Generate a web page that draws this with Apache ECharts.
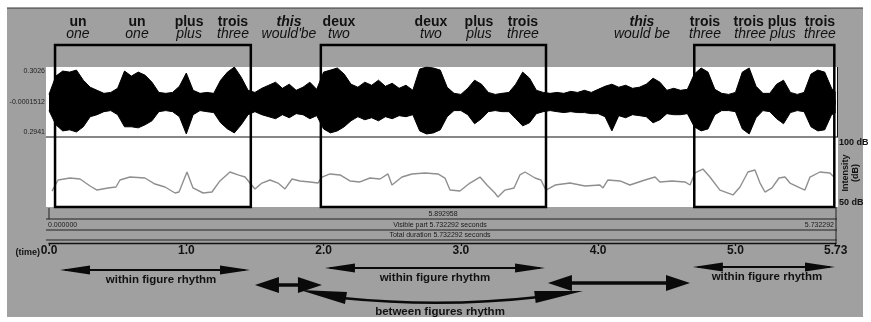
<!DOCTYPE html>
<html><head><meta charset="utf-8">
<script src="https://cdn.jsdelivr.net/npm/echarts@6/dist/echarts.min.js"></script>
<style>html,body{margin:0;padding:0;background:#fff}#c{width:871px;height:322px}</style>
</head><body><div id="c"></div>
<script>
// ---- data ----
const totalDuration = 5.732292;
const waveTimes = [0.00,0.05,0.10,0.15,0.20,0.25,0.30,0.35,0.40,0.45,0.50,0.55,0.60,0.65,0.70,0.75,0.80,0.85,0.90,0.95,
  1.00,1.05,1.10,1.15,1.20,1.25,1.30,1.35,1.40,1.45,1.50,1.55,1.60,1.65,1.70,1.75,1.80,1.85,1.90,1.95,
  2.00,2.05,2.10,2.15,2.20,2.25,2.30,2.35,2.40,2.45,2.50,2.55,2.60,2.65,2.70,2.75,2.80,2.85,2.90,2.95,
  3.00,3.05,3.10,3.15,3.20,3.25,3.30,3.35,3.40,3.45,3.50,3.55,3.60,3.65,3.70,3.75,3.80,3.85,3.90,3.95,
  4.00,4.05,4.10,4.15,4.20,4.25,4.30,4.35,4.40,4.45,4.50,4.55,4.60,4.65,4.70,4.75,4.80,4.85,4.90,4.95,
  5.00,5.05,5.10,5.15,5.20,5.25,5.30,5.35,5.40,5.45,5.50,5.55,5.60,5.65,5.70,5.73];
const waveHi = [0.069,0.225,0.268,0.259,0.276,0.190,0.130,0.104,0.078,0.086,0.121,0.268,0.225,0.259,0.233,0.173,0.086,0.078,0.086,0.138,
  0.251,0.104,0.078,0.086,0.078,0.190,0.259,0.302,0.216,0.104,0.086,0.121,0.147,0.173,0.121,0.156,0.104,0.130,0.173,0.112,
  0.259,0.276,0.294,0.242,0.156,0.130,0.173,0.147,0.190,0.138,0.164,0.121,0.147,0.104,0.285,0.302,0.294,0.276,0.130,0.078,
  0.069,0.121,0.190,0.156,0.086,0.069,0.078,0.086,0.156,0.259,0.207,0.104,0.086,0.078,0.086,0.078,0.095,0.086,0.104,0.086,
  0.112,0.138,0.156,0.130,0.147,0.121,0.130,0.156,0.207,0.173,0.104,0.121,0.104,0.112,0.242,0.294,0.259,0.112,0.078,0.069,
  0.086,0.259,0.294,0.138,0.078,0.078,0.156,0.190,0.086,0.069,0.086,0.242,0.276,0.259,0.121,0.086];
const waveLo = [-0.069,-0.190,-0.242,-0.233,-0.251,-0.207,-0.121,-0.104,-0.078,-0.069,-0.104,-0.207,-0.207,-0.216,-0.190,-0.156,-0.078,-0.069,-0.078,-0.121,
  -0.268,-0.104,-0.069,-0.078,-0.086,-0.173,-0.225,-0.259,-0.190,-0.104,-0.078,-0.104,-0.121,-0.138,-0.104,-0.130,-0.095,-0.104,-0.138,-0.112,
  -0.225,-0.259,-0.242,-0.207,-0.156,-0.121,-0.147,-0.130,-0.156,-0.121,-0.138,-0.112,-0.121,-0.104,-0.242,-0.268,-0.259,-0.233,-0.121,-0.069,
  -0.069,-0.104,-0.181,-0.138,-0.078,-0.069,-0.078,-0.078,-0.138,-0.199,-0.173,-0.095,-0.078,-0.069,-0.078,-0.086,-0.078,-0.086,-0.086,-0.095,
  -0.095,-0.121,-0.242,-0.112,-0.130,-0.104,-0.112,-0.121,-0.173,-0.147,-0.095,-0.104,-0.104,-0.095,-0.207,-0.242,-0.225,-0.104,-0.069,-0.069,
  -0.078,-0.225,-0.268,-0.130,-0.069,-0.078,-0.138,-0.181,-0.086,-0.069,-0.078,-0.207,-0.242,-0.233,-0.104,-0.086];
const intTimes = [0.022,0.066,0.153,0.226,0.299,0.350,0.430,0.488,0.517,0.590,0.699,0.772,0.845,0.918,0.947,1.005,1.049,1.122,1.187,1.245,
  1.318,1.377,1.428,1.464,1.500,1.551,1.610,1.668,1.719,1.770,1.828,1.901,1.959,1.988,2.047,2.120,2.192,2.265,2.338,2.411,
  2.469,2.498,2.571,2.644,2.738,2.833,2.884,2.921,2.993,3.066,3.139,3.190,3.248,3.270,3.321,3.387,3.430,3.467,3.540,3.583,
  3.620,3.686,3.795,3.904,4.013,4.035,4.071,4.159,4.231,4.341,4.414,4.450,4.538,4.632,4.669,4.705,4.763,4.814,4.887,4.982,
  5.033,5.091,5.142,5.179,5.215,5.266,5.317,5.361,5.397,5.470,5.506,5.543,5.615,5.688,5.717];
const intDb = [61.4,69.3,70.7,70.0,65.0,62.1,63.6,64.3,69.3,71.4,
  70.7,66.4,64.3,60.0,60.7,75.0,63.6,60.0,60.7,68.6,
  75.0,72.9,71.4,67.1,62.9,67.1,69.3,67.1,62.9,70.0,
  68.6,67.9,67.1,71.4,73.6,72.9,68.6,67.9,70.7,70.0,
  73.6,65.7,71.4,73.6,74.3,73.6,70.7,62.1,61.4,67.1,
  71.4,65.7,60.0,57.1,62.1,63.6,72.9,75.0,70.7,69.3,
  62.1,65.7,67.1,65.0,65.7,63.6,69.3,68.6,65.7,69.3,
  71.4,67.9,68.6,67.9,65.7,74.3,77.1,71.4,62.1,58.6,
  64.3,75.0,76.4,67.1,60.7,63.6,70.7,71.4,67.1,63.6,
  62.1,71.4,75.0,74.3,71.4];
const waveTickValues = [0.27, 0.004, -0.25];
const waveTickLabels = ['0.3026', '-0.0001512', '0.2941'];
const timeTicks = [0, 1, 2, 3, 4, 5, 5.73];
const timeTickLabels = ['0.0', '1.0', '2.0', '3.0', '4.0', '5.0', '5.73'];
const wordTimes = [0.211,0.641,1.020,1.340,1.748,2.112,2.782,3.132,3.452,4.319,4.778,5.215,5.615];
const frenchWords = ['un','un','plus','trois','this','deux','deux','plus','trois','this','trois','trois plus','trois'];
const englishWords = ['one','one','plus','three',"would'be",'two','two','plus','three','would be','three','three plus','three'];
const italicTop = [false,false,false,false,true,false,false,false,false,true,false,false,false];
const boxSpans = [[0.044,1.47],[1.98,3.62],[4.70,5.72]];
const withinArrows = [[0.080,1.464],[2.010,3.613],[4.690,5.725]];
const withinLabelTimes = [0.816, 2.811, 5.229];
const betweenArrows = [[1.500,1.988],[3.634,4.669]];
const betweenCurve = [1.828, 3.889];
const betweenLabelTime = 2.848;

// ---- chart ----
const FONT = 'Liberation Sans, Arial, Helvetica, sans-serif';
const chart = echarts.init(document.getElementById('c'), null, {renderer: 'canvas'});
const L = 49, W = 787;
const wavePts = (arr) => waveTimes.map((t, i) => [t, arr[i]]);
chart.setOption({
  animation: false,
  backgroundColor: '#ffffff',
  grid: [
    {left: L, width: W, top: 67, height: 70},
    {left: L, width: W, top: 137, height: 70},
    {left: L, width: W, top: 203, height: 40}
  ],
  xAxis: [
    {gridIndex: 0, type: 'value', min: 0, max: totalDuration, show: false},
    {gridIndex: 1, type: 'value', min: 0, max: totalDuration, show: false},
    {gridIndex: 2, type: 'value', min: 0, max: totalDuration, position: 'bottom',
     axisLine: {show: true, lineStyle: {color: '#111', width: 1.3}},
     axisTick: {show: true, customValues: timeTicks, length: 3, lineStyle: {color: '#111', width: 1.3}},
     splitLine: {show: false},
     axisLabel: {customValues: timeTicks, margin: 2, color: '#111', fontFamily: FONT, fontWeight: 'bold', fontSize: 12,
       formatter: (v) => { const i = timeTicks.findIndex(x => Math.abs(x - v) < 1e-6); return i >= 0 ? timeTickLabels[i] : ''; }}}
  ],
  yAxis: [
    {gridIndex: 0, type: 'value', min: -0.2941, max: 0.3026, axisLine: {show: false}, axisTick: {show: false}, splitLine: {show: false},
     axisLabel: {customValues: waveTickValues, margin: 4, color: '#222', fontFamily: FONT, fontSize: 7,
       formatter: (v) => { const i = waveTickValues.findIndex(x => Math.abs(x - v) < 1e-6); return i >= 0 ? waveTickLabels[i] : ''; }}},
    {gridIndex: 1, type: 'value', min: 50, max: 100, show: false},
    {gridIndex: 2, type: 'value', show: false}
  ],
  series: [
    {type: 'line', xAxisIndex: 0, yAxisIndex: 0, data: wavePts(waveHi), symbol: 'none', silent: true,
     lineStyle: {color: '#000', width: 1}, areaStyle: {color: '#000', opacity: 1, origin: -0.02}},
    {type: 'line', xAxisIndex: 0, yAxisIndex: 0, data: wavePts(waveLo), symbol: 'none', silent: true,
     lineStyle: {color: '#000', width: 1}, areaStyle: {color: '#000', opacity: 1, origin: 0.02}},
    {type: 'line', xAxisIndex: 1, yAxisIndex: 1, data: intTimes.map((t, i) => [t, intDb[i]]), symbol: 'none', silent: true,
     lineStyle: {color: '#8f8f8f', width: 1.4}}
  ]
});

const px = (t) => chart.convertToPixel({xAxisIndex: 2}, t);
const els = [];
// background and panels
els.push({type: 'rect', z: -20, silent: true, shape: {x: 7, y: 8, width: 856, height: 309}, style: {fill: '#a0a0a0'}});
els.push({type: 'line', z: -19, silent: true, shape: {x1: 7, y1: 8, x2: 863, y2: 8}, style: {stroke: '#333', lineWidth: 1}});
els.push({type: 'rect', z: -18, silent: true, shape: {x: 46, y: 67, width: 792, height: 140}, style: {fill: '#ffffff'}});
els.push({type: 'line', z: 5, silent: true, shape: {x1: 46, y1: 137, x2: 838, y2: 137}, style: {stroke: '#111', lineWidth: 1}});
els.push({type: 'line', z: 5, silent: true, shape: {x1: 837.5, y1: 67, x2: 837.5, y2: 137}, style: {stroke: '#111', lineWidth: 1}});
// info bands
[219, 230, 240].forEach(y => els.push({type: 'line', z: 5, silent: true, shape: {x1: 46, y1: y, x2: 837, y2: y}, style: {stroke: '#222', lineWidth: 1}}));
els.push({type: 'line', z: 5, silent: true, shape: {x1: 836, y1: 207, x2: 836, y2: 243}, style: {stroke: '#222', lineWidth: 1}});
els.push({type: 'line', z: 5, silent: true, shape: {x1: 49, y1: 208, x2: 49, y2: 219}, style: {stroke: '#222', lineWidth: 1}});
const smallTxt = (text, x, y, align) => els.push({type: 'text', z: 6, silent: true, x, y,
  style: {text, fill: '#1a1a1a', font: '7px ' + FONT, align: align || 'center', verticalAlign: 'middle'}});
smallTxt('5.892958', 443, 214);
smallTxt('0.000000', 48, 225, 'left');
smallTxt('Visible part 5.732292 seconds', 440, 225);
smallTxt('5.732292', 834, 225, 'right');
smallTxt('Total duration 5.732292 seconds', 440, 235.5);
// y-axis side labels
els.push({type: 'text', z: 6, silent: true, x: 839, y: 143, style: {text: '100 dB', fill: '#111', font: 'bold 9px ' + FONT, align: 'left', verticalAlign: 'middle'}});
els.push({type: 'text', z: 6, silent: true, x: 839, y: 203, style: {text: '50 dB', fill: '#111', font: 'bold 9px ' + FONT, align: 'left', verticalAlign: 'middle'}});
els.push({type: 'text', z: 6, silent: true, x: 846, y: 173, rotation: Math.PI / 2, style: {text: 'Intensity', fill: '#111', font: 'bold 9px ' + FONT, align: 'center', verticalAlign: 'middle'}});
els.push({type: 'text', z: 6, silent: true, x: 856, y: 173, rotation: Math.PI / 2, style: {text: '(dB)', fill: '#111', font: 'bold 9px ' + FONT, align: 'center', verticalAlign: 'middle'}});
els.push({type: 'text', z: 6, silent: true, x: 40, y: 253, style: {text: '(time)', fill: '#111', font: 'bold 9px ' + FONT, align: 'right', verticalAlign: 'middle'}});
// boxes
boxSpans.forEach(([a, b]) => {
  const x1 = px(a), x2 = px(b);
  els.push({type: 'rect', z: 10, silent: true, shape: {x: x1, y: 45, width: x2 - x1, height: 162}, style: {fill: 'none', stroke: '#000', lineWidth: 2.5}});
});
// words
wordTimes.forEach((t, i) => {
  const x = px(t);
  els.push({type: 'text', z: 6, silent: true, x, y: 22, style: {text: frenchWords[i], fill: '#111',
    font: (italicTop[i] ? 'italic ' : '') + 'bold 14px ' + FONT, align: 'center', verticalAlign: 'middle'}});
  els.push({type: 'text', z: 6, silent: true, x, y: 34, style: {text: englishWords[i], fill: '#111',
    font: 'italic 14px ' + FONT, align: 'center', verticalAlign: 'middle'}});
});
// arrows
function head(tip, base, hw) {
  const dx = tip[0] - base[0], dy = tip[1] - base[1];
  const len = Math.hypot(dx, dy), nx = -dy / len * hw, ny = dx / len * hw;
  els.push({type: 'polygon', z: 8, silent: true, shape: {points: [tip, [base[0] + nx, base[1] + ny], [base[0] - nx, base[1] - ny]]}, style: {fill: '#0a0a0a'}});
}
const withinY = [270, 268, 267];
withinArrows.forEach(([a, b], i) => {
  const x1 = px(a), x2 = px(b), y = withinY[i];
  els.push({type: 'line', z: 7, silent: true, shape: {x1: x1 + 5, y1: y, x2: x2 - 5, y2: y}, style: {stroke: '#0a0a0a', lineWidth: 2}});
  head([x1, y], [x1 + 30, y], 4.5);
  head([x2, y], [x2 - 30, y], 4.5);
  els.push({type: 'text', z: 6, silent: true, x: px(withinLabelTimes[i]), y: y + 10, style: {text: 'within figure rhythm', fill: '#111',
    font: 'bold 11.5px ' + FONT, align: 'center', verticalAlign: 'middle'}});
});
const betweenY = [285, 283];
betweenArrows.forEach(([a, b], i) => {
  const x1 = px(a), x2 = px(b), y = betweenY[i];
  els.push({type: 'line', z: 7, silent: true, shape: {x1: x1 + 8, y1: y, x2: x2 - 8, y2: y}, style: {stroke: '#0a0a0a', lineWidth: 3.5}});
  head([x1, y], [x1 + 24, y], 8);
  head([x2, y], [x2 - 24, y], 8);
});
{
  const x1 = px(betweenCurve[0]), x2 = px(betweenCurve[1]);
  const b1 = [x1 + 46, 298], b2 = [x2 - 48, 297];
  els.push({type: 'bezierCurve', z: 7, silent: true, shape: {x1: b1[0] - 4, y1: b1[1], cpx1: (x1 + x2) / 2, cpy1: 308, x2: b2[0] + 4, y2: b2[1]},
    style: {stroke: '#0a0a0a', lineWidth: 2.5, fill: 'none'}});
  head([x1, 290], b1, 6);
  head([x2, 291], b2, 6);
  els.push({type: 'text', z: 6, silent: true, x: px(betweenLabelTime), y: 312, style: {text: 'between figures rhythm', fill: '#111',
    font: 'bold 11.5px ' + FONT, align: 'center', verticalAlign: 'middle'}});
}
chart.setOption({graphic: {elements: els}});
</script></body></html>
